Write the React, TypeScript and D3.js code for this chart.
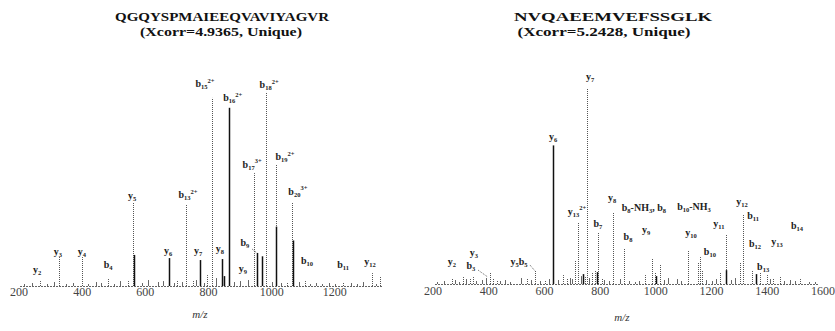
import React from 'react';
import * as d3 from 'd3';

// ---------- Left spectrum: QGQYSPMAIEEQVAVIYAGVR ----------
const leftTitle = 'QGQYSPMAIEEQVAVIYAGVR';
const leftSubtitle = '(Xcorr=4.9365, Unique)';
const leftTicks = [200, 400, 600, 800, 1000, 1200];

// sparse (dotted-looking) peaks: m/z and relative intensity (%)
const leftPeakMz = [266, 327, 399, 482, 561, 545, 729, 700, 751, 795, 811, 944, 982, 1014, 1064, 1049, 1105, 1226, 1318, 1343];
const leftPeakInt = [2.5, 14.6, 14.6, 3.5, 42.4, 2.5, 40.9, 3, 3, 5.5, 95, 57, 98, 61.6, 42.4, 2, 2.5, 2, 6.5, 5];
// dense (solid) peaks
const leftDenseMz = [564, 675, 773, 843, 849, 865, 953, 969, 1014, 1067];
const leftDenseInt = [15.7, 14.1, 13.1, 13.6, 5, 90, 16.7, 15, 30, 23];
// baseline noise
const leftNoiseMz = [215, 240, 290, 310, 350, 370, 420, 445, 460, 500, 520, 590, 610, 640, 655, 690, 715, 760, 785, 825, 880, 900, 925, 1000, 1030, 1085, 1120, 1140, 1160, 1180, 1200, 1250, 1270, 1290, 1330];
const leftNoiseInt = [1, 1.5, 1, 2, 1, 1.5, 1, 2, 1.5, 1, 2.5, 1.5, 3, 2, 2.5, 1.5, 2, 3, 1.5, 4, 2, 2.5, 3, 2, 1.5, 2, 1, 1.5, 1, 1.5, 1, 1.5, 1, 2, 1];
// annotations (label anchor in data units)
const leftLabelText = ['y_{2}', 'y_{3}', 'y_{4}', 'b_{4}', 'y_{5}', 'b_{13}^{2+}', 'b_{15}^{2+}', 'b_{16}^{2+}', 'b_{18}^{2+}', 'b_{17}^{3+}', 'b_{19}^{2+}', 'b_{20}^{3+}', 'y_{6}', 'y_{7}', 'y_{8}', 'b_{9}', 'y_{9}', 'b_{10}', 'b_{11}', 'y_{12}'];
const leftLabelMz = [257, 323, 399, 482, 558, 735, 789, 877, 992, 938, 1042, 1083, 672, 767, 836, 915, 909, 1112, 1226, 1311];
const leftLabelInt = [6.6, 15.7, 15.7, 9.1, 44, 44.4, 100.5, 93.4, 100, 59.6, 63.6, 46, 16.2, 16.2, 17.2, 20.2, 7.1, 11.1, 9.1, 10.6];
const leftLeaderFromMz = [938];
const leftLeaderFromInt = [18.7];
const leftLeaderToMz = [953];
const leftLeaderToInt = [16.7];

// ---------- Right spectrum: NVQAEEMVEFSSGLK ----------
const rightTitle = 'NVQAEEMVEFSSGLK';
const rightSubtitle = '(Xcorr=5.2428, Unique)';
const rightTicks = [200, 400, 600, 800, 1000, 1200, 1400, 1600];

const rightPeakMz = [268, 308, 333, 344, 405, 415, 430, 537, 566, 602, 667, 681, 710, 721, 746, 753, 771, 782, 792, 807, 846, 886, 961, 986, 997, 1015, 1115, 1151, 1158, 1166, 1230, 1252, 1302, 1313, 1345, 1374, 1399, 1421, 1446, 1518];
const rightPeakInt = [3, 3.5, 2.5, 3.5, 5.6, 3, 2, 3, 7, 2, 4.5, 3, 12, 31, 3.5, 99, 6, 7, 26, 3, 36, 18, 4.5, 13, 6, 9.6, 17, 10.6, 13.6, 7, 6, 25, 10.6, 35, 7, 6, 4.5, 3, 4, 2.5];
const rightDenseMz = [631, 740, 790, 1000, 1252, 1360];
const rightDenseInt = [70, 5, 6, 4, 7, 5];
const rightNoiseMz = [215, 240, 280, 295, 320, 355, 375, 390, 440, 460, 475, 515, 550, 585, 615, 650, 690, 700, 730, 760, 815, 830, 870, 905, 925, 940, 1030, 1045, 1075, 1090, 1180, 1200, 1215, 1270, 1285, 1360, 1410, 1460, 1480, 1500, 1550, 1570];
const rightNoiseInt = [1, 1.5, 2, 1, 2.5, 1.5, 2, 3, 1.5, 2, 1, 3, 2, 1.5, 2.5, 2, 3, 2.5, 4, 3, 2, 1.5, 2.5, 1.5, 1, 1.5, 2, 3, 2.5, 1.5, 2, 1.5, 2.5, 2, 3, 2, 2.5, 1.5, 2, 1.5, 1, 1];
const rightLabelText = ['y_{2}', 'y_{3}', 'b_{3}', 'y_{5}b_{5}', 'y_{6}', 'y_{7}', 'y_{13}^{2+}', 'b_{7}', 'y_{8}', 'b_{8}-NH_{3}, b_{8}', 'b_{10}-NH_{3}', 'y_{9}', 'b_{8}', 'y_{10}', 'y_{11}', 'y_{12}', 'b_{11}', 'b_{14}', 'y_{13}', 'b_{12}', 'b_{13}', 'b_{10}'];
const rightLabelMz = [268, 347, 336, 509, 631, 764, 717, 792, 843, 957, 1137, 965, 900, 1126, 1226, 1309, 1349, 1507, 1435, 1356, 1385, 1194];
const rightLabelInt = [9.6, 14.1, 7.6, 9.6, 72.7, 103, 35, 29, 42, 37, 37.4, 26, 22, 24, 29, 40, 33, 28, 19.7, 18.7, 7, 14.6];
const rightLeaderFromMz = [362, 548];
const rightLeaderFromInt = [7, 9.6];
const rightLeaderToMz = [397, 566];
const rightLeaderToInt = [3.5, 6.6];

const SERIF = "'Liberation Serif', 'DejaVu Serif', serif";

function IonLabel({ text, x, y }: { text: string; x: number; y: number }) {
  const parts: { s: string; k: 'n' | 'sub' | 'sup' }[] = [];
  const re = /_\{([^}]*)\}|\^\{([^}]*)\}|([^_^]+)/g;
  let m: RegExpExecArray | null;
  while ((m = re.exec(text))) {
    if (m[1] !== undefined) parts.push({ s: m[1], k: 'sub' });
    else if (m[2] !== undefined) parts.push({ s: m[2], k: 'sup' });
    else parts.push({ s: m[3], k: 'n' });
  }
  let cur = 0;
  return (
    <text x={x} y={y} textAnchor="middle" fontFamily={SERIF} fontWeight="bold" fontSize={10} fill="#222">
      {parts.map((p, i) => {
        const target = p.k === 'sub' ? 2 : p.k === 'sup' ? -4.5 : 0;
        const dy = target - cur;
        cur = target;
        return (
          <tspan key={i} dy={dy} fontSize={p.k === 'n' ? 10 : 6.5}>
            {p.s}
          </tspan>
        );
      })}
    </text>
  );
}

interface PanelProps {
  title: string;
  subtitle: string;
  titleX: number;
  titleW: number;
  subX: number;
  subW: number;
  domain: [number, number];
  range: [number, number];
  base: number;
  axisFrom: number;
  axisTo: number;
  ticks: number[];
  peakMz: number[];
  peakInt: number[];
  denseMz: number[];
  denseInt: number[];
  noiseMz: number[];
  noiseInt: number[];
  labelText: string[];
  labelMz: number[];
  labelInt: number[];
  lfMz: number[];
  lfInt: number[];
  ltMz: number[];
  ltInt: number[];
  mzLabelX: number;
  mzLabelY: number;
  tickY: number;
}

function Panel(p: PanelProps) {
  const x = d3.scaleLinear().domain(p.domain).range(p.range);
  const y = d3.scaleLinear().domain([0, 100]).range([p.base, p.base - 198]);
  const px = (mz: number) => Math.round(x(mz)) + 0.5;
  return (
    <g>
      <text x={p.titleX} y={21} textAnchor="middle" fontFamily={SERIF} fontWeight="bold" fontSize={13.5} fill="#111" textLength={p.titleW} lengthAdjust="spacingAndGlyphs">
        {p.title}
      </text>
      <text x={p.subX} y={36} textAnchor="middle" fontFamily={SERIF} fontWeight="bold" fontSize={12} fill="#111" textLength={p.subW} lengthAdjust="spacingAndGlyphs">
        {p.subtitle}
      </text>
      {/* baseline */}
      <line x1={p.axisFrom} x2={p.axisTo} y1={p.base + 0.5} y2={p.base + 0.5} stroke="#666" strokeWidth={1} strokeDasharray="2 1" />
      {/* noise */}
      {p.noiseMz.map((mz, i) => (
        <line key={'n' + i} x1={px(mz)} x2={px(mz)} y1={p.base} y2={y(p.noiseInt[i])} stroke="#666" strokeWidth={1} />
      ))}
      {/* sparse peaks */}
      {p.peakMz.map((mz, i) => (
        <line key={'p' + i} x1={px(mz)} x2={px(mz)} y1={p.base} y2={y(p.peakInt[i])} stroke="#555" strokeWidth={1} strokeDasharray="1 1" />
      ))}
      {/* dense peaks */}
      {p.denseMz.map((mz, i) => (
        <line key={'d' + i} x1={px(mz)} x2={px(mz)} y1={p.base} y2={y(p.denseInt[i])} stroke="#111" strokeWidth={1.5} />
      ))}
      {/* leaders */}
      {p.lfMz.map((mz, i) => (
        <line key={'l' + i} x1={x(mz)} y1={y(p.lfInt[i])} x2={x(p.ltMz[i])} y2={y(p.ltInt[i])} stroke="#444" strokeWidth={0.8} strokeDasharray="1 1" />
      ))}
      {/* labels */}
      {p.labelText.map((t, i) => (
        <IonLabel key={'t' + i} text={t} x={x(p.labelMz[i])} y={y(p.labelInt[i])} />
      ))}
      {/* tick labels */}
      {p.ticks.map((t) => (
        <text key={'k' + t} x={x(t)} y={p.tickY} textAnchor="middle" fontFamily={SERIF} fontSize={12} fill="#444">
          {t}
        </text>
      ))}
      <text x={p.mzLabelX} y={p.mzLabelY} textAnchor="middle" fontFamily={SERIF} fontStyle="italic" fontSize={11} fill="#333">
        m/z
      </text>
    </g>
  );
}

export default function App() {
  return (
    <svg width={835} height={331} style={{ position: 'absolute', left: 0, top: 0, background: '#fff' }}>
      <rect width={835} height={331} fill="#fff" />
      <Panel
        title={leftTitle}
        subtitle={leftSubtitle}
        titleX={222}
        titleW={214}
        subX={221}
        subW={162}
        domain={[200, 1400]}
        range={[19, 398]}
        base={286}
        axisFrom={20}
        axisTo={383}
        ticks={leftTicks}
        peakMz={leftPeakMz}
        peakInt={leftPeakInt}
        denseMz={leftDenseMz}
        denseInt={leftDenseInt}
        noiseMz={leftNoiseMz}
        noiseInt={leftNoiseInt}
        labelText={leftLabelText}
        labelMz={leftLabelMz}
        labelInt={leftLabelInt}
        lfMz={leftLeaderFromMz}
        lfInt={leftLeaderFromInt}
        ltMz={leftLeaderToMz}
        ltInt={leftLeaderToInt}
        mzLabelX={200}
        mzLabelY={318}
        tickY={296}
      />
      <Panel
        title={rightTitle}
        subtitle={rightSubtitle}
        titleX={613}
        titleW={198}
        subX={604}
        subW={173}
        domain={[200, 1600]}
        range={[433, 823]}
        base={284}
        axisFrom={435}
        axisTo={818}
        ticks={rightTicks}
        peakMz={rightPeakMz}
        peakInt={rightPeakInt}
        denseMz={rightDenseMz}
        denseInt={rightDenseInt}
        noiseMz={rightNoiseMz}
        noiseInt={rightNoiseInt}
        labelText={rightLabelText}
        labelMz={rightLabelMz}
        labelInt={rightLabelInt}
        lfMz={rightLeaderFromMz}
        lfInt={rightLeaderFromInt}
        ltMz={rightLeaderToMz}
        ltInt={rightLeaderToInt}
        mzLabelX={622}
        mzLabelY={321}
        tickY={295}
      />
    </svg>
  );
}
